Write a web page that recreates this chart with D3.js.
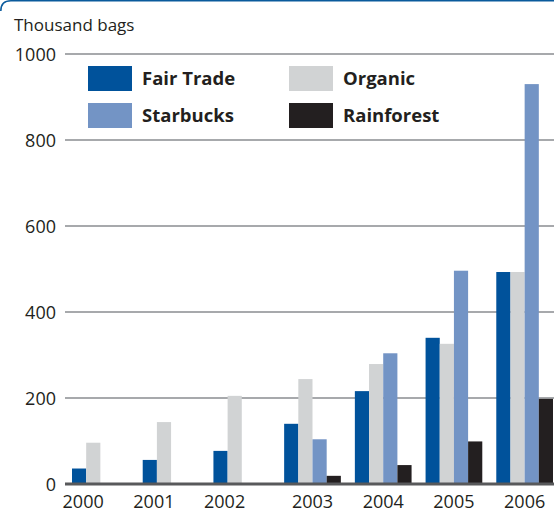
<!DOCTYPE html>
<html><head><meta charset="utf-8">
<script src="https://cdn.jsdelivr.net/npm/d3@7"></script>
<style>html,body{margin:0;padding:0;background:#fff;}svg{display:block;}</style>
</head><body>
<svg id="c" width="554" height="514"></svg>
<script>
const years = ["2000","2001","2002","2003","2004","2005","2006"];
const seriesNames = ["Fair Trade","Organic","Starbucks","Rainforest"];
const fairTrade = [36, 56, 77, 140, 216, 340, 493];
const organic = [96, 144, 205, 244, 279, 326, 493];
const starbucks = [null, null, null, 104, 304, 496, 930];
const rainforest = [null, null, null, 19, 44, 99, 198];
const yTicks = [0, 200, 400, 600, 800, 1000];
const colors = ["#00529b", "#d1d3d4", "#7394c5", "#231f20"];
const yTitle = "Thousand bags";

const values = [fairTrade, organic, starbucks, rainforest];
const svg = d3.select("#c");
const font = "'Open Sans', 'Noto Sans', sans-serif";
const textCol = "#231f20";

// frame top border
svg.append("path").attr("d","M0.8,11 Q0.8,0.8 11,0.8 H554")
  .attr("fill","none").attr("stroke","#0a5a9c").attr("stroke-width",1.6);

const y = d3.scaleLinear().domain([0,1000]).range([484,54]);
const x = d3.scaleBand().domain(years).range([72,553]).paddingInner(0.198).paddingOuter(0);
const xs = d3.scaleBand().domain(seriesNames).range([0,x.bandwidth()]).padding(0);

// gridlines
svg.append("g").selectAll("line").data(yTicks.filter(d=>d>0)).join("line")
  .attr("x1",65).attr("x2",554).attr("y1",d=>y(d)).attr("y2",d=>y(d))
  .attr("stroke","#a7a9ac").attr("stroke-width",2);

// y axis labels
const yAxis = d3.axisLeft(y).tickValues(yTicks).tickSize(0).tickPadding(0).tickFormat(d3.format("d"));
const gy = svg.append("g").attr("transform","translate(56,0)").call(yAxis);
gy.select(".domain").remove();
gy.selectAll("text").attr("font-family",font).attr("font-size",18).attr("fill",textCol).attr("dy","0.36em");

// title
svg.append("text").attr("x",14).attr("y",31).text(yTitle)
  .attr("font-family",font).attr("font-size",17).attr("fill",textCol);

// bars
const g = svg.append("g");
years.forEach((yr,i)=>{
  seriesNames.forEach((s,j)=>{
    const v = values[j][i];
    if (v==null) return;
    g.append("rect").attr("x",x(yr)+xs(s)).attr("width",xs.bandwidth())
      .attr("y",y(v)).attr("height",y(0)-y(v)).attr("fill",colors[j]);
  });
});

// baseline
svg.append("line").attr("x1",65).attr("x2",554).attr("y1",y(0)).attr("y2",y(0))
  .attr("stroke","#58595b").attr("stroke-width",3);

// x labels: centered on the bars present for each year
const gx = svg.append("g");
years.forEach((yr,i)=>{
  const present = seriesNames.filter((s,j)=>values[j][i]!=null);
  const x0 = x(yr)+xs(present[0]);
  const x1 = x(yr)+xs(present[present.length-1])+xs.bandwidth();
  gx.append("text").attr("x",(x0+x1)/2 - (present.length<4?3:0)).attr("y",508)
    .attr("text-anchor","middle").text(yr)
    .attr("font-family",font).attr("font-size",18).attr("fill",textCol);
});

// legend
const legPos = [[88,66],[289,66],[88,103],[289,103]];
seriesNames.forEach((s,j)=>{
  const [lx,ly] = legPos[j];
  svg.append("rect").attr("x",lx).attr("y",ly).attr("width",44).attr("height",25).attr("fill",colors[j]);
  svg.append("text").attr("x",lx+54).attr("y",ly+19).text(s)
    .attr("font-family",font).attr("font-weight","bold").attr("font-size",18.5).attr("fill",textCol);
});
</script>
</body></html>
